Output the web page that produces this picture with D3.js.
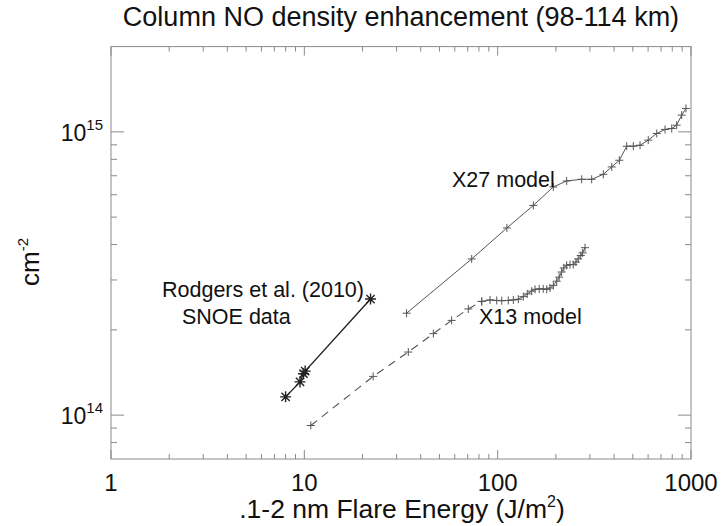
<!DOCTYPE html>
<html><head><meta charset="utf-8">
<script src="https://cdn.jsdelivr.net/npm/d3@7"></script>
<style>
body{margin:0;background:#fff}
svg{display:block}
text{font-family:"Liberation Sans",Arial,Helvetica,sans-serif;fill:#111}
</style>
</head><body>
<svg id="chart" width="721" height="526"></svg>
<script>
// ---- data ----
const snoeE = [8.0, 9.5, 9.9, 10.1, 22.0];
const snoeN = [1.16e14, 1.31e14, 1.40e14, 1.43e14, 2.57e14];

const x13DashE = [10.8, 22.7, 34.5, 46.5, 57.8, 70.5, 82.7];
const x13DashN = [9.19e13, 1.37e14, 1.67e14, 1.94e14, 2.16e14, 2.37e14, 2.52e14];

const x13E = [82.7, 91.3, 98.9, 105, 113.5, 120.5, 127.9, 135.7, 142.3, 150, 156, 164, 172, 179.4, 186.5, 194, 202, 208, 214, 220, 227.5, 236.6, 246, 254, 261, 269, 275, 283];
const x13N = [2.52e14, 2.55e14, 2.54e14, 2.535e14, 2.54e14, 2.55e14, 2.565e14, 2.62e14, 2.68e14, 2.74e14, 2.78e14, 2.79e14, 2.79e14, 2.78e14, 2.81e14, 2.87e14, 2.97e14, 3.07e14, 3.20e14, 3.31e14, 3.38e14, 3.40e14, 3.40e14, 3.47e14, 3.56e14, 3.66e14, 3.74e14, 3.90e14];

const x27E = [33.8, 73.4, 111.6, 152.9, 194, 227.5, 272, 306.4, 352, 389, 426, 465, 503, 545, 601, 665, 734, 795, 843, 895, 942];
const x27N = [2.29e14, 3.56e14, 4.58e14, 5.50e14, 6.39e14, 6.71e14, 6.80e14, 6.80e14, 7.08e14, 7.52e14, 7.94e14, 8.90e14, 8.90e14, 8.97e14, 9.35e14, 9.87e14, 1.02e15, 1.028e15, 1.056e15, 1.146e15, 1.21e15];

const xTickVals = [1, 10, 100, 1000];
const xTickLabels = ["1", "10", "100", "1000"];
const yTickVals = [1e14, 1e15];
const yTickExp = ["14", "15"];
const xMinor = [2,3,4,5,6,7,8,9,20,30,40,50,60,70,80,90,200,300,400,500,600,700,800,900];
const yMinor = [8e13, 9e13, 2e14, 3e14, 4e14, 5e14, 6e14, 7e14, 8e14, 9e14];

const titleText = "Column NO density enhancement (98-114 km)";
const xTitle = ".1-2 nm Flare Energy (J/m";
const yTitle = "cm";
const annotations = [
  {text: "X27 model"},
  {text: "X13 model"},
  {text: "Rodgers et al. (2010)"},
  {text: "SNOE data"}
];

// ---- layout ----
const L = 111, R = 691, T = 46.6, B = 459;
const svg = d3.select("#chart");
const x = d3.scaleLog().domain([1, 1000]).range([L, R]);
const y = d3.scaleLog().domain([7e13, 2e15]).range([B, T]);

const axisColor = "#8a8a8a";
const g = svg.append("g");

// frame
g.append("rect").attr("x", L).attr("y", T).attr("width", R - L).attr("height", B - T)
  .attr("fill", "none").attr("stroke", axisColor).attr("stroke-width", 1);

// x ticks (bottom & top, inward)
function xTick(v, len) {
  const px = x(v);
  g.append("line").attr("x1", px).attr("x2", px).attr("y1", B).attr("y2", B - len).attr("stroke", axisColor);
  g.append("line").attr("x1", px).attr("x2", px).attr("y1", T).attr("y2", T + len).attr("stroke", axisColor);
}
xTickVals.forEach(v => xTick(v, 9));
xMinor.forEach(v => xTick(v, 5));
function yTick(v, len) {
  const py = y(v);
  g.append("line").attr("x1", L).attr("x2", L + len).attr("y1", py).attr("y2", py).attr("stroke", axisColor);
  g.append("line").attr("x1", R).attr("x2", R - len).attr("y1", py).attr("y2", py).attr("stroke", axisColor);
}
yTickVals.forEach(v => yTick(v, 13));
yMinor.forEach(v => yTick(v, 6));

// tick labels
xTickVals.forEach((v, i) => {
  svg.append("text").attr("x", x(v)).attr("y", 491).attr("text-anchor", "middle")
    .attr("font-size", 24).text(xTickLabels[i]);
});
yTickVals.forEach((v, i) => {
  const t = svg.append("text").attr("x", 103).attr("y", y(v) + 9).attr("text-anchor", "end").attr("font-size", 23);
  t.append("tspan").text("10");
  t.append("tspan").attr("font-size", 15).attr("dy", -11).text(yTickExp[i]);
});

// titles
svg.append("text").attr("x", 401).attr("y", 26).attr("text-anchor", "middle").attr("font-size", 27).text(titleText);
const xt = svg.append("text").attr("x", 402).attr("y", 518).attr("text-anchor", "middle").attr("font-size", 26.5);
xt.append("tspan").text(xTitle);
xt.append("tspan").attr("font-size", 16).attr("dy", -11).text("2");
xt.append("tspan").attr("dy", 11).text(")");
const yt = svg.append("text").attr("transform", "translate(39,262) rotate(-90)").attr("text-anchor", "middle").attr("font-size", 26);
yt.append("tspan").text(yTitle);
yt.append("tspan").attr("font-size", 15).attr("dy", -11).text("-2");

// ---- series ----
const lineGen = d3.line().x(d => x(d[0])).y(d => y(d[1]));
const zip = (a, b) => a.map((v, i) => [v, b[i]]);

function plus(sel, pts, s, color, w) {
  sel.selectAll(null).data(pts).enter().append("path")
    .attr("d", d => { const px = x(d[0]), py = y(d[1]); return `M${px - s},${py}H${px + s}M${px},${py - s}V${py + s}`; })
    .attr("stroke", color).attr("stroke-width", w).attr("fill", "none");
}
function star(sel, pts, s, color, w) {
  sel.selectAll(null).data(pts).enter().append("path")
    .attr("d", d => { const px = x(d[0]), py = y(d[1]); const k = s * 0.75;
      return `M${px - s},${py}H${px + s}M${px},${py - s}V${py + s}M${px - k},${py - k}L${px + k},${py + k}M${px - k},${py + k}L${px + k},${py - k}`; })
    .attr("stroke", color).attr("stroke-width", w).attr("fill", "none");
}

const modelColor = "#555";
const x27 = zip(x27E, x27N);
g.append("path").attr("d", lineGen(x27)).attr("fill", "none").attr("stroke", modelColor).attr("stroke-width", 1);
plus(g, x27, 4, modelColor, 1);

const x13d = zip(x13DashE, x13DashN);
g.append("path").attr("d", lineGen(x13d)).attr("fill", "none").attr("stroke", modelColor).attr("stroke-width", 1.1).attr("stroke-dasharray", "8,6");
plus(g, x13d, 4, modelColor, 1);
const x13 = zip(x13E, x13N);
g.append("path").attr("d", lineGen(x13)).attr("fill", "none").attr("stroke", modelColor).attr("stroke-width", 1);
plus(g, x13, 4, modelColor, 1);

const snoe = zip(snoeE, snoeN);
g.append("path").attr("d", lineGen(snoe)).attr("fill", "none").attr("stroke", "#222").attr("stroke-width", 1.4);
star(g, snoe, 5.5, "#222", 1.4);

// annotations
const annPos = [[452, 187], [479, 324], [162, 297], [182, 324]];
annotations.forEach((a, i) => {
  svg.append("text").attr("x", annPos[i][0]).attr("y", annPos[i][1]).attr("font-size", 21.5).text(a.text);
});
</script>
</body></html>
